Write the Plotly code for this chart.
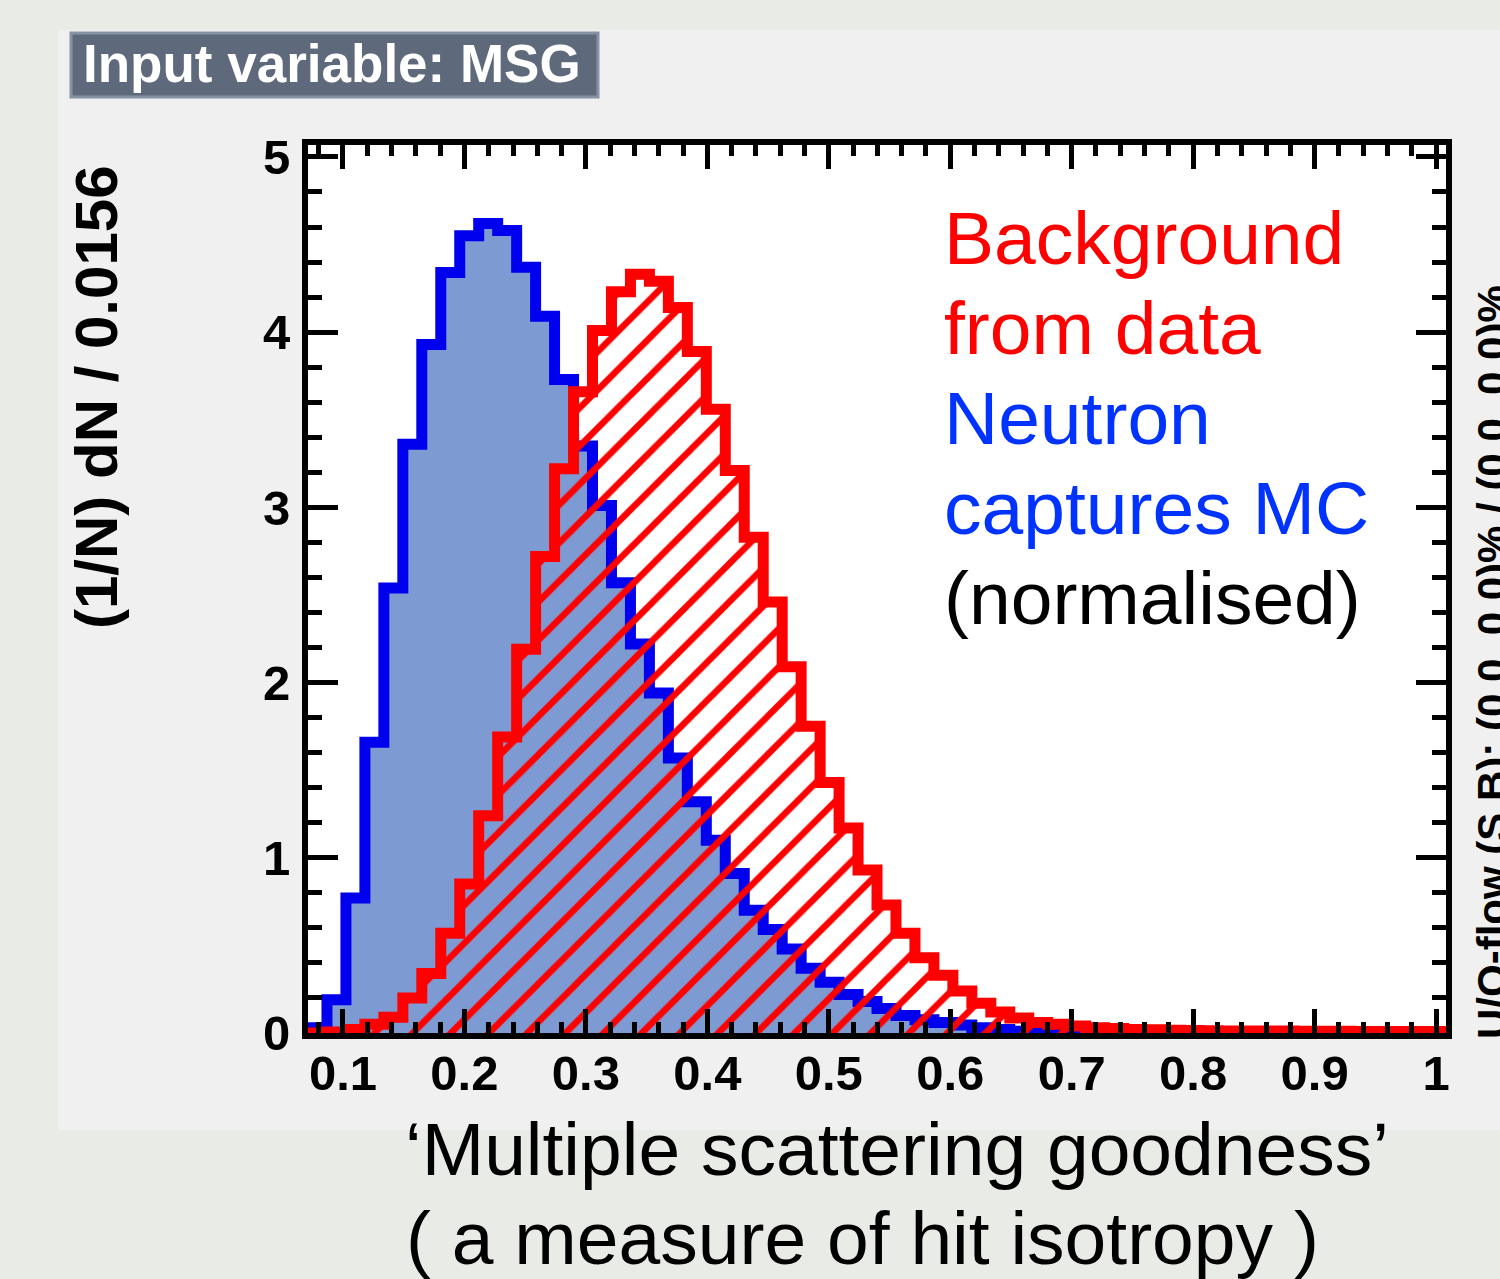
import plotly.graph_objects as go

# ---------------- data ----------------
x_min = 0.0712
bin_width = 0.015617
n_bins = 60

signal_mc = [0.03, 0.19, 0.77, 1.66, 2.54, 3.36, 3.93, 4.34, 4.55, 4.62,
             4.58, 4.37, 4.09, 3.73, 3.35, 3.01, 2.57, 2.22, 1.94, 1.57,
             1.32, 1.10, 0.91, 0.70, 0.59, 0.48, 0.37, 0.29, 0.22, 0.18,
             0.14, 0.10, 0.075, 0.06, 0.045, 0.03, 0.02, 0.01, 0.005, 0.0,
             0.0, 0.0, 0.0, 0.0, 0.0, 0.0, 0.0, 0.0, 0.0, 0.0,
             0.0, 0.0, 0.0, 0.0, 0.0, 0.0, 0.0, 0.0, 0.0, 0.0]

background_data = [0.0, 0.005, 0.02, 0.05, 0.09, 0.20, 0.34, 0.57, 0.85, 1.24,
                   1.69, 2.19, 2.72, 3.22, 3.66, 4.01, 4.23, 4.33, 4.29, 4.14,
                   3.89, 3.56, 3.21, 2.83, 2.46, 2.09, 1.75, 1.43, 1.17, 0.93,
                   0.73, 0.57, 0.43, 0.33, 0.24, 0.17, 0.12, 0.085, 0.06, 0.05,
                   0.04, 0.03, 0.025, 0.02, 0.018, 0.016, 0.014, 0.013, 0.012, 0.012,
                   0.011, 0.011, 0.010, 0.010, 0.010, 0.009, 0.009, 0.009, 0.008, 0.008]

x_tickvals = [0.1, 0.2, 0.3, 0.4, 0.5, 0.6, 0.7, 0.8, 0.9, 1.0]
x_ticktext = ["0.1", "0.2", "0.3", "0.4", "0.5", "0.6", "0.7", "0.8", "0.9", "1"]
y_tickvals = [0, 1, 2, 3, 4, 5]
y_ticktext = ["0", "1", "2", "3", "4", "5"]

legend_lines = [("Background", "#ff0000"), ("from data", "#ff0000"),
                ("Neutron", "#0033ff"), ("captures MC", "#0033ff"),
                ("(normalised)", "#000000")]

x_range = [0.0712, 1.0082]
y_range = [0.0, 5.068]

# ---------------- layout geometry ----------------
W, H = 1500, 1279
L, R, T, B = 308, 1446, 145, 1033
PW, PH = R - L, B - T


def px(xp):
    return (xp - L) / PW


def py(yp):
    return (B - yp) / PH


edges = [x_min + i * bin_width for i in range(n_bins + 1)]

fig = go.Figure()

fig.add_trace(go.Scatter(
    x=edges, y=signal_mc + [signal_mc[-1]],
    mode="lines", line=dict(shape="hv", color="#0000ee", width=11),
    fill="tozeroy", fillcolor="#7d9ad2", showlegend=False, hoverinfo="skip"))

fig.add_trace(go.Scatter(
    x=edges, y=background_data + [background_data[-1]],
    mode="lines", line=dict(shape="hv", color="#ff0000", width=11),
    fill="tozeroy", fillcolor="rgba(0,0,0,0)",
    fillpattern=dict(shape="/", size=27, solidity=0.24, fillmode="replace",
                     fgcolor="#ff0000", fgopacity=1, bgcolor="rgba(0,0,0,0)"),
    showlegend=False, hoverinfo="skip"))

shapes = [
    dict(type="rect", xref="paper", yref="paper", layer="below",
         x0=px(58), x1=px(1500), y0=py(1130), y1=py(30),
         fillcolor="#f0f0f0", line=dict(width=0)),
    dict(type="rect", xref="paper", yref="paper", layer="below",
         x0=0, x1=1, y0=0, y1=1, fillcolor="#ffffff", line=dict(width=0)),
    dict(type="rect", xref="paper", yref="paper", layer="above",
         x0=px(71), x1=px(598), y0=py(97), y1=py(33),
         fillcolor="#5e6a7c", line=dict(color="#8693a5", width=3)),
]

annotations = [
    dict(text="Input variable: MSG", xref="paper", yref="paper",
         x=px(332), y=py(64), xanchor="center", yanchor="middle",
         showarrow=False,
         font=dict(family="Liberation Sans", size=53, color="#ffffff", weight="bold")),
    dict(text="(1/N) dN / 0.0156", xref="paper", yref="paper",
         x=px(96), y=py(397), xanchor="center", yanchor="middle",
         textangle=-90, showarrow=False,
         font=dict(family="Liberation Sans", size=60, color="#000000", weight="bold")),
    dict(text="U/O-flow (S,B): (0.0, 0.0)% / (0.0, 0.0)%", xref="paper", yref="paper",
         x=px(1492), y=py(662), xanchor="center", yanchor="middle",
         textangle=-90, showarrow=False,
         font=dict(family="Liberation Sans", size=42, color="#000000", weight="bold")),
    dict(text="\u2018Multiple scattering goodness\u2019", xref="paper", yref="paper",
         x=px(403), y=py(1149), xanchor="left", yanchor="middle",
         showarrow=False,
         font=dict(family="Liberation Sans", size=75, color="#000000")),
    dict(text="( a measure of hit isotropy )", xref="paper", yref="paper",
         x=px(404), y=py(1238), xanchor="left", yanchor="middle",
         showarrow=False,
         font=dict(family="Liberation Sans", size=75, color="#000000")),
]

for i, (txt, col) in enumerate(legend_lines):
    annotations.append(dict(
        text=txt, xref="paper", yref="paper",
        x=px(942), y=py(238 + 90 * i), xanchor="left", yanchor="middle",
        showarrow=False,
        font=dict(family="Liberation Sans", size=75, color=col)))

fig.update_layout(
    width=W, height=H,
    margin=dict(l=L, r=W - R, t=T, b=H - B),
    paper_bgcolor="#e9ebe7", plot_bgcolor="rgba(0,0,0,0)",
    shapes=shapes, annotations=annotations, showlegend=False,
)

fig.update_xaxes(
    range=x_range, showgrid=False, zeroline=False,
    showline=True, linecolor="#000000", linewidth=6, mirror="ticks",
    ticks="inside", ticklen=24, tickwidth=5, tickcolor="#000000",
    tickvals=x_tickvals, ticktext=x_ticktext,
    tickfont=dict(family="Liberation Sans", size=49, color="#000000", weight="bold"),
    ticklabelstandoff=-8,
    minor=dict(ticks="inside", ticklen=11, tickwidth=5, tickcolor="#000000",
               tick0=0, dtick=0.02, showgrid=False),
)

fig.update_yaxes(
    range=y_range, showgrid=False, zeroline=False,
    showline=True, linecolor="#000000", linewidth=6, mirror="ticks",
    ticks="inside", ticklen=30, tickwidth=5, tickcolor="#000000",
    tickvals=y_tickvals, ticktext=y_ticktext,
    tickfont=dict(family="Liberation Sans", size=49, color="#000000", weight="bold"),
    ticklabelstandoff=2,
    minor=dict(ticks="inside", ticklen=14, tickwidth=5, tickcolor="#000000",
               tick0=0, dtick=0.2, showgrid=False),
)

fig.write_html("out.html")
